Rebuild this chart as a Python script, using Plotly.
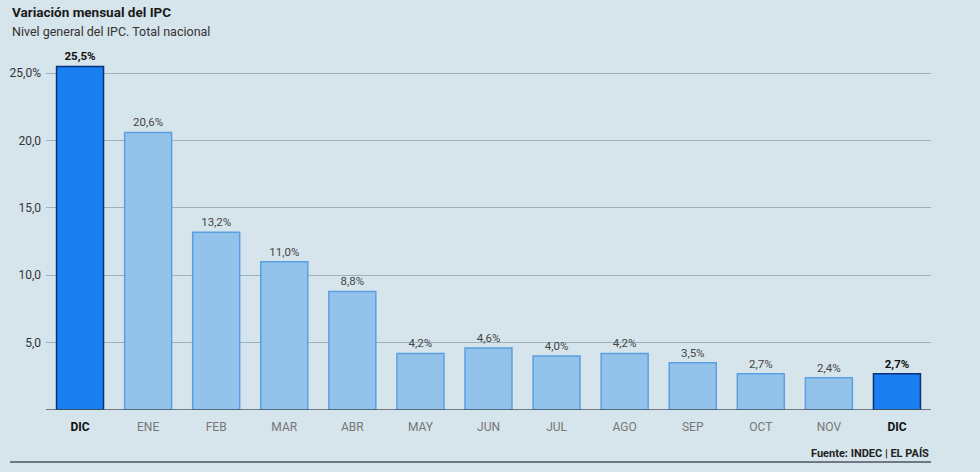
import plotly.graph_objects as go

months = ["DIC", "ENE", "FEB", "MAR", "ABR", "MAY", "JUN", "JUL", "AGO", "SEP", "OCT", "NOV", "DIC"]
values = [25.5, 20.6, 13.2, 11.0, 8.8, 4.2, 4.6, 4.0, 4.2, 3.5, 2.7, 2.4, 2.7]
highlight = [True] + [False] * 11 + [True]
ytick_vals = [5, 10, 15, 20, 25]
ytick_text = ["5,0", "10,0", "15,0", "20,0", "25,0%"]

BG = "#d6e4eb"
x = list(range(len(months)))
fill = ["#1a80f2" if h else "#93c2ea" for h in highlight]
line = ["#0d2f7a" if h else "#5c9fe0" for h in highlight]
labels = [("<b>%s%%</b>" if h else "%s%%") % f"{v:.1f}".replace(".", ",") for v, h in zip(values, highlight)]
label_colors = ["#111111" if h else "#444444" for h in highlight]
ticktext = [f"<b><span style='color:#111111'>{m}</span></b>" if h else m for m, h in zip(months, highlight)]

fig = go.Figure(go.Bar(
    x=x, y=values,
    marker=dict(color=fill, line=dict(color=line, width=1.5)),
    text=labels, textposition="outside", cliponaxis=False,
    textfont=dict(size=11.5, color=label_colors, family="Roboto"),
    width=0.69,
))

fig.update_layout(
    width=980, height=472,
    margin=dict(l=46, r=49, t=53, b=62),
    paper_bgcolor=BG, plot_bgcolor=BG,
    font=dict(family="Roboto", color="#555555"),
    showlegend=False,
    xaxis=dict(tickvals=x, ticktext=ticktext, range=[-0.5, 12.5], showgrid=False,
               tickfont=dict(size=12, color="#777777"), ticks="outside", ticklen=6,
               tickcolor=BG, showline=False, zeroline=False, automargin=False),
    yaxis=dict(range=[0, 26.5], tickvals=ytick_vals, ticktext=ytick_text, showgrid=True,
               gridcolor="#9fb0bc", gridwidth=1, tickfont=dict(size=12, color="#333333"),
               zeroline=False, showline=False, ticks="", ticklabelstandoff=4, automargin=False),
    shapes=[
        dict(type="line", xref="paper", yref="y", x0=0, x1=1, y0=0, y1=0,
             line=dict(color="#4a5560", width=1.5)),
        dict(type="line", xref="paper", yref="paper", x0=-36/885, x1=1, y0=-52/357, y1=-52/357,
             line=dict(color="#4a5560", width=1.5)),
    ],
    annotations=[
        dict(text="<b>Variación mensual del IPC</b>", xref="paper", yref="paper",
             x=-36/885, y=1 + 41/357, xanchor="left", yanchor="middle", showarrow=False,
             font=dict(size=13.5, color="#1a1a1a")),
        dict(text="Nivel general del IPC. Total nacional", xref="paper", yref="paper",
             x=-36/885, y=1 + 22/357, xanchor="left", yanchor="middle", showarrow=False,
             font=dict(size=12.5, color="#333333")),
        dict(text="<b>Fuente: INDEC | EL PAÍS</b>", xref="paper", yref="paper",
             x=1, y=-43/357, xanchor="right", yanchor="middle", showarrow=False,
             font=dict(size=11, color="#222222")),
    ],
)

fig.write_html("out.html")
